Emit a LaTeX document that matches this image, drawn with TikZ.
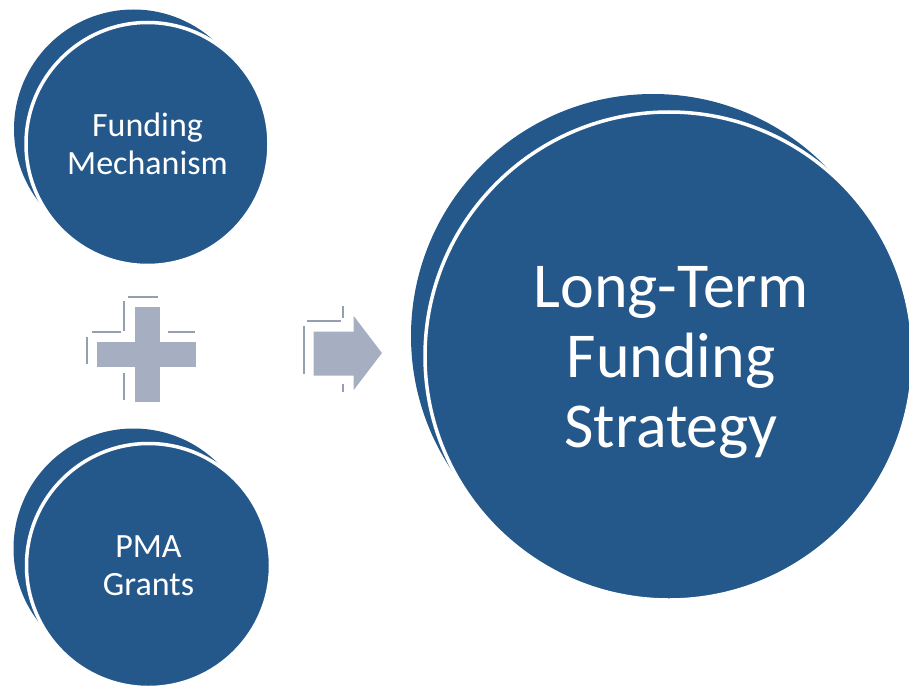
\documentclass[tikz,border=0pt]{standalone}
\usepackage{fontspec}
\setmainfont{Carlito}
\definecolor{discblue}{RGB}{37,88,138}
\definecolor{symgray}{RGB}{166,175,193}
\definecolor{fraggray}{RGB}{150,159,178}
\begin{document}
\begin{tikzpicture}[x=1pt,y=-1pt,
  disc/.style={circle, fill=discblue, draw=white, line width=3.5pt, text=white,
    align=center, inner sep=0pt},
  smalltext/.style={font=\fontsize{34pt}{38pt}\selectfont},
  bigtext/.style={font=\fontsize{64pt}{70pt}\selectfont},
  crescent/.style={fill=discblue},
  symbol/.style={fill=symgray, draw=white, line width=3pt, line join=miter},
  frag/.style={draw=fraggray, line width=2pt}
]
\fill[white] (0,0) rectangle (909,687);
\useasboundingbox (0,0) rectangle (909,687);

% crescents behind the discs
\fill[crescent] (133.5,129) circle[radius=119.5pt];
\fill[crescent] (133.5,548.5) circle[radius=120pt];
\fill[crescent] (653,336) circle[radius=242pt];

% discs
\node[disc, smalltext, minimum size=243pt] (fm) at (147.5,144) {Funding\\Mechanism};
\node[disc, smalltext, minimum size=244pt] (pma) at (148.5,565.5) {PMA\\Grants};
\node[disc, bigtext, minimum size=488pt] (lt) at (669,356) {};
\node[text=white, bigtext, align=center] (lttext) at (671,362) {Long-Term\\Funding\\Strategy};

% plus sign: offset outline fragments
\draw[frag] (128,297) -- (158,297);
\draw[frag] (124,301) -- (124,331);
\draw[frag] (92,332) -- (121,332);
\draw[frag] (87,337) -- (87,364);
\draw[frag] (168,332) -- (195,332);
\draw[frag] (124,373) -- (124,400);
\draw[symbol] (133,305) -- (161,305) -- (161,340) -- (197,340) -- (197,368)
  -- (161,368) -- (161,403) -- (133,403) -- (133,368) -- (95,368) -- (95,340)
  -- (133,340) -- cycle;

% arrow: offset outline fragments
\draw[frag] (307,321) -- (341,321);
\draw[frag] (304,326) -- (304,374);
\draw[frag] (343,306) -- (343,318);
\draw[frag] (343,384) -- (343,392);
\draw[symbol] (312,330) -- (352,330) -- (352,311) -- (384,353) -- (352,395)
  -- (352,377) -- (312,377) -- cycle;
\end{tikzpicture}
\end{document}
